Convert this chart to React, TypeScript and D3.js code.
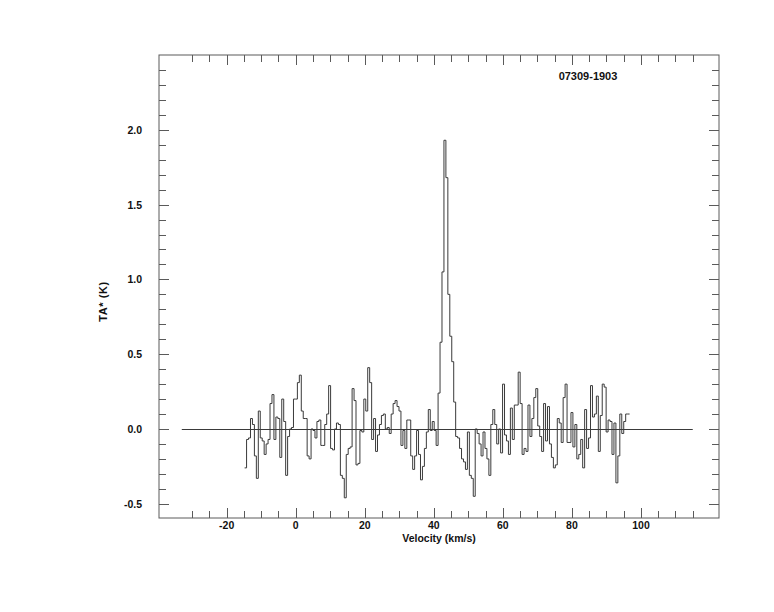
import { useEffect, useRef } from "react";
import * as d3 from "d3";

// spectrum: antenna temperature per channel, first channel starts at V_START
const V_START = -14.8;
const CHANNEL_WIDTH = 0.566;
const TA: number[] = [
  -0.26, -0.07, -0.06, 0.07, 0.03, -0.18, -0.33, 0.12, -0.06,
  -0.08, -0.17, -0.1, -0.07, 0.17, 0.23, -0.07, 0.08, 0.07, -0.19,
  0.2, 0.05, -0.31, -0.05, 0.0, 0.01, 0.2, 0.2, 0.31, 0.36,
  0.12, 0.07, 0.07, -0.18, -0.2, 0.0, -0.01, -0.06, 0.05, 0.06,
  -0.11, -0.11, 0.03, 0.1, 0.29, -0.13, -0.14, 0.0, 0.04, 0.03,
  -0.31, -0.33, -0.46, -0.17, -0.13, -0.12, 0.27, 0.19, -0.24, -0.23,
  -0.01, -0.02, 0.2, 0.12, 0.41, 0.31, -0.07, 0.07, -0.15, -0.04,
  0.03, 0.09, 0.1, 0.0, 0.01, -0.03, 0.1, 0.17, 0.19, 0.15,
  0.12, -0.11, -0.01, -0.13, 0.06, 0.06, -0.18, -0.27, -0.18, -0.01,
  -0.17, -0.34, -0.25, -0.13, -0.02, 0.13, -0.01, 0.05, -0.01, -0.11,
  0.24, 0.58, 1.05, 1.93, 1.68, 0.9, 0.62, 0.45, 0.18, -0.05,
  -0.06, -0.13, -0.2, -0.22, -0.27, -0.02, -0.31, -0.33, -0.45, 0.0,
  -0.03, -0.1, -0.18, -0.02, -0.13, -0.2, -0.31, 0.03, 0.13, 0.03,
  -0.1, 0.0, -0.16, 0.3, -0.04, -0.08, -0.17, 0.14, -0.07, 0.16,
  0.16, 0.38, 0.17, -0.17, -0.13, -0.15, 0.16, -0.05, 0.07, 0.21,
  0.27, 0.02, -0.05, -0.15, 0.17, -0.08, 0.15, -0.1, -0.19, -0.26,
  -0.24, 0.07, 0.04, -0.09, 0.21, 0.3, -0.09, -0.09, 0.11, -0.12,
  0.03, -0.2, -0.17, -0.07, -0.26, 0.13, -0.13, -0.06, 0.29, 0.08,
  0.1, 0.22, -0.15, 0.09, 0.3, 0.28, -0.02, 0.06, 0.05, -0.17,
  0.04, -0.36, -0.18, 0.1, -0.03, 0.05, 0.1, 0.1,
];

const X_DOMAIN: [number, number] = [-39.6, 122.6];
const Y_DOMAIN: [number, number] = [-0.595, 2.5];
const BASELINE_RANGE: [number, number] = [-33, 115];
const X_LABELS = [-20, 0, 20, 40, 60, 80, 100];
const X_MINOR = d3.range(-30, 116, 5);
const Y_LABELS = [-0.5, 0, 0.5, 1.0, 1.5, 2.0];
const Y_MINOR = d3.range(-5, 25, 1).map((d) => d / 10);
const SOURCE = "07309-1903";

const W = 774;
const H = 612;
const margin = { left: 159, right: 55, top: 55, bottom: 94 };

export default function App() {
  const svgRef = useRef<SVGSVGElement>(null);

  useEffect(() => {
    const svg = d3.select(svgRef.current);
    svg.selectAll("*").remove();

    const x0 = margin.left;
    const x1 = W - margin.right;
    const y0 = margin.top;
    const y1 = H - margin.bottom;

    const x = d3.scaleLinear().domain(X_DOMAIN).range([x0, x1]);
    const y = d3.scaleLinear().domain(Y_DOMAIN).range([y1, y0]);

    const ink = "#3a3a3a";
    const font = "'Liberation Sans', Arial, Helvetica, sans-serif";

    // frame
    svg
      .append("rect")
      .attr("x", x0)
      .attr("y", y0)
      .attr("width", x1 - x0)
      .attr("height", y1 - y0)
      .attr("fill", "none")
      .attr("stroke", "#5a5a5a")
      .attr("stroke-width", 1);

    const isMajorX = (d: number) => X_LABELS.includes(d);
    const isMajorY = (d: number) =>
      Y_LABELS.some((v) => Math.abs(v - d) < 1e-6);

    const ticks = svg.append("g").attr("stroke", "#5a5a5a");

    // x ticks, bottom and top
    X_MINOR.forEach((d) => {
      const len = isMajorX(d) ? 10 : 7;
      const px = Math.round(x(d)) + 0.5;
      ticks
        .append("line")
        .attr("x1", px)
        .attr("x2", px)
        .attr("y1", y1)
        .attr("y2", y1 - len);
      ticks
        .append("line")
        .attr("x1", px)
        .attr("x2", px)
        .attr("y1", y0)
        .attr("y2", y0 + len);
    });

    // y ticks, left and right
    Y_MINOR.forEach((d) => {
      const len = isMajorY(d) ? 10 : 7;
      const py = Math.round(y(d)) + 0.5;
      ticks
        .append("line")
        .attr("x1", x0)
        .attr("x2", x0 + len)
        .attr("y1", py)
        .attr("y2", py);
      ticks
        .append("line")
        .attr("x1", x1)
        .attr("x2", x1 - len)
        .attr("y1", py)
        .attr("y2", py);
    });

    // tick labels
    svg
      .append("g")
      .selectAll("text")
      .data(X_LABELS)
      .enter()
      .append("text")
      .attr("x", (d) => x(d))
      .attr("y", y1 + 11)
      .attr("text-anchor", "middle")
      .attr("font-family", font)
      .attr("font-weight", "bold")
      .attr("font-size", 10.5)
      .attr("fill", "#111")
      .text((d) => String(d));

    svg
      .append("g")
      .selectAll("text")
      .data(Y_LABELS)
      .enter()
      .append("text")
      .attr("x", x0 - 17)
      .attr("y", (d) => y(d) + 4)
      .attr("text-anchor", "end")
      .attr("font-family", font)
      .attr("font-weight", "bold")
      .attr("font-size", 10.5)
      .attr("fill", "#111")
      .text((d) => d.toFixed(1));

    // axis titles
    svg
      .append("text")
      .attr("x", (x0 + x1) / 2)
      .attr("y", y1 + 24)
      .attr("text-anchor", "middle")
      .attr("font-family", font)
      .attr("font-weight", "bold")
      .attr("font-size", 10.5)
      .attr("fill", "#111")
      .text("Velocity (km/s)");

    svg
      .append("text")
      .attr("transform", `translate(107,${(y0 + y1) / 2 + 15}) rotate(-90)`)
      .attr("text-anchor", "middle")
      .attr("font-family", font)
      .attr("font-weight", "bold")
      .attr("font-size", 11)
      .attr("letter-spacing", 0.6)
      .attr("fill", "#111")
      .text("TA* (K)");

    svg
      .append("text")
      .attr("x", 588)
      .attr("y", 80)
      .attr("text-anchor", "middle")
      .attr("font-family", font)
      .attr("font-weight", "bold")
      .attr("font-size", 11)
      .attr("fill", "#111")
      .text(SOURCE);

    // zero baseline
    svg
      .append("line")
      .attr("x1", x(BASELINE_RANGE[0]))
      .attr("x2", x(BASELINE_RANGE[1]))
      .attr("y1", Math.round(y(0)) + 0.5)
      .attr("y2", Math.round(y(0)) + 0.5)
      .attr("stroke", ink)
      .attr("stroke-width", 1);

    // step spectrum
    const pts: [number, number][] = TA.map((t, i) => [
      V_START + i * CHANNEL_WIDTH,
      t,
    ]);
    pts.push([V_START + TA.length * CHANNEL_WIDTH, TA[TA.length - 1]]);

    const line = d3
      .line<[number, number]>()
      .x((d) => x(d[0]))
      .y((d) => y(d[1]))
      .curve(d3.curveStepAfter);

    svg
      .append("path")
      .attr("d", line(pts) || "")
      .attr("fill", "none")
      .attr("stroke", ink)
      .attr("stroke-width", 1);
  }, []);

  return (
    <div style={{ width: W, height: H, background: "#fff" }}>
      <svg
        ref={svgRef}
        width={W}
        height={H}
        style={{ display: "block", marginLeft: -8, marginTop: -8 }}
      />
    </div>
  );
}
